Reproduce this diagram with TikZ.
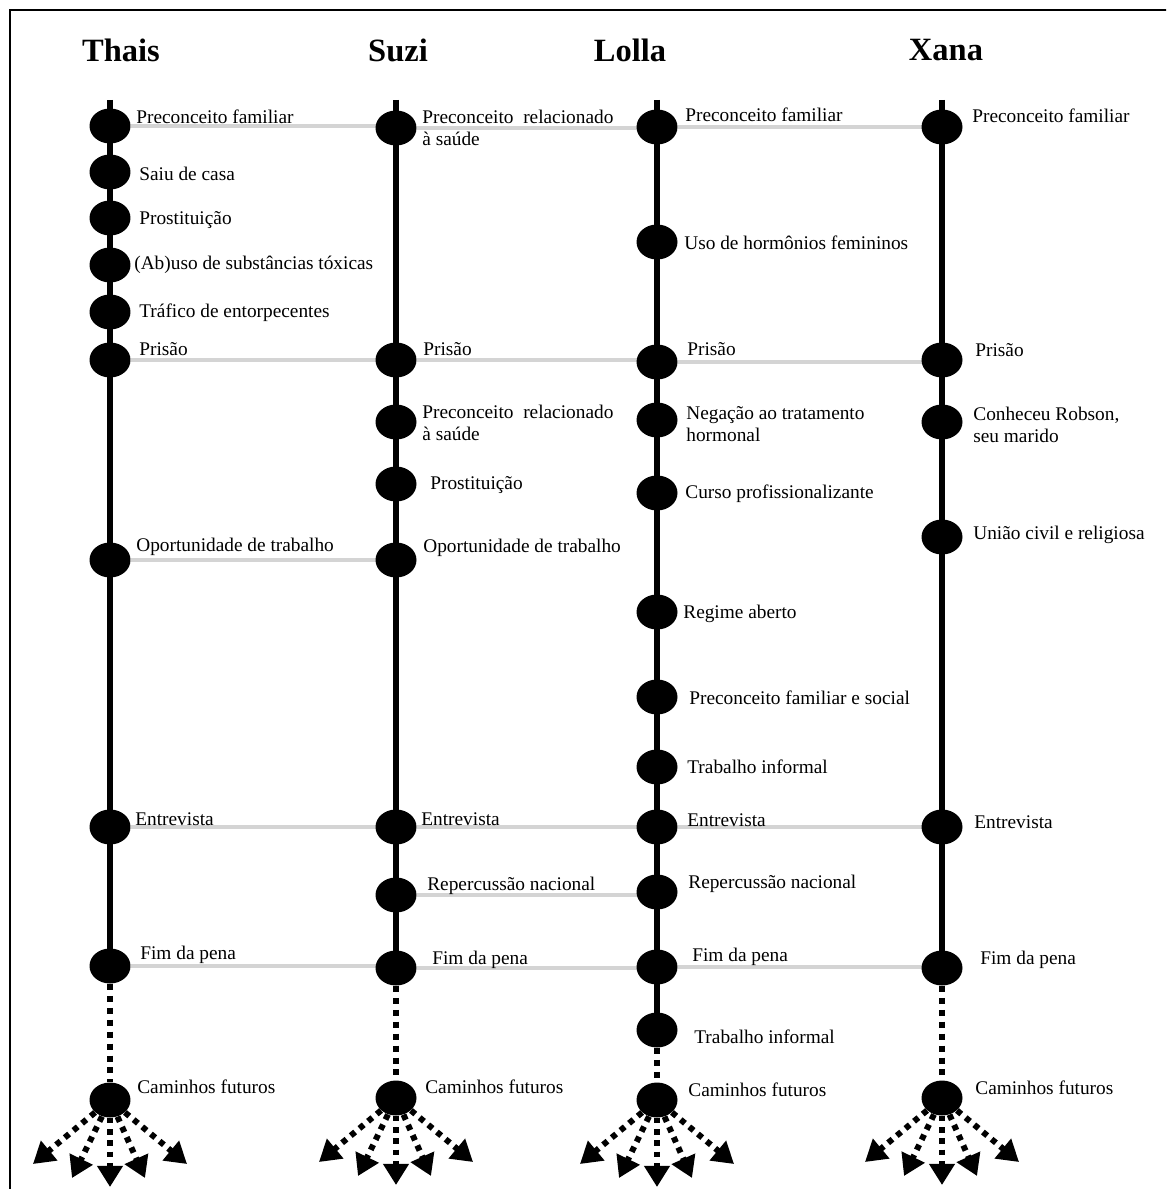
\documentclass[tikz,border=0pt]{standalone}
\usepackage{fontspec}
\setmainfont{Liberation Serif}
\usetikzlibrary{arrows.meta,backgrounds,shapes.geometric}

\tikzset{
  evento/.style={ellipse,fill=black,minimum width=0.82cm,minimum height=0.7cm,inner sep=0pt},
  rotulo/.style={anchor=west,inner sep=0pt,align=left,font=\fontsize{11}{12.2}\selectfont},
  nome/.style={font=\fontsize{18.5}{20}\selectfont\bfseries},
  linha/.style={line width=3.4pt},
  ligacao/.style={line width=2.2pt,color=black!17},
  tracejado/.style={line width=3.4pt,dash pattern=on 3.4pt off 3.4pt},
  futuro/.style={line width=3.4pt,dash pattern=on 3.2pt off 3.2pt,
    -{Triangle[length=12pt,width=14pt]}}
}

\begin{document}
\begin{tikzpicture}[x=0.02cm,y=-0.02cm]
  \useasboundingbox (0,0) rectangle (1166,1189);
  \clip (0,0) rectangle (1166,1189);

  %frame
  \draw[line width=1.7pt,line join=miter] (10,1200) -- (10,10) -- (1200,10);

  %names
  \node[nome] (thais) at (121,50) {Thais};
  \node[nome] (suzi) at (398,50) {Suzi};
  \node[nome] (lolla) at (630,50) {Lolla};
  \node[nome] (xana) at (946,50) {Xana};

  %Thais
  \coordinate (ttop) at (110,100);
  \foreach \n/\y/\lx/\ly/\txt in {
      1/126/136/117/{Preconceito familiar},
      2/172/139/174/{Saiu de casa},
      3/218/139/220/{Prostituição},
      4/265/134/265/{(Ab)uso de substâncias tóxicas},
      5/312/139/313/{Tráfico de entorpecentes},
      6/360/139/349/{Prisão},
      7/560/136/547/{Oportunidade de trabalho},
      8/827/135/819/{Entrevista},
      9/966/140/955/{Fim da pena},
      c/1100/137/1087/{Caminhos futuros}}
  {
    \node[evento] (t\n) at (110,\y) {};
    \node[rotulo] (t\n r) at (\lx,\ly) {\txt};
  }

  %Suzi
  \coordinate (stop) at (396,100);
  \foreach \n/\y/\lx/\ly/\txt in {
      1/128/422/128/{Preconceito\ \ relacionado\\à saúde},
      2/360/423/349/{Prisão},
      3/422/422/423/{Preconceito\ \ relacionado\\à saúde},
      4/484/430/485/{Prostituição},
      5/560/423/548/{Oportunidade de trabalho},
      6/827/421/819/{Entrevista},
      7/895/427/886/{Repercussão nacional},
      8/968/432/960/{Fim da pena},
      c/1098/425/1087/{Caminhos futuros}}
  {
    \node[evento] (s\n) at (396,\y) {};
    \node[rotulo] (s\n r) at (\lx,\ly) {\txt};
  }

  %Lolla
  \coordinate (ltop) at (657,100);
  \foreach \n/\y/\lx/\ly/\txt in {
      1/127/685/115/{Preconceito familiar},
      2/242/684/243/{Uso de hormônios femininos},
      3/362/687/349/{Prisão},
      4/420/686/424/{Negação ao tratamento\\hormonal},
      5/493/685/494/{Curso profissionalizante},
      6/612/683/614/{Regime aberto},
      7/697/689/698/{Preconceito familiar e social},
      8/767/687/767/{Trabalho informal},
      9/827/687/820/{Entrevista},
      10/892/688/884/{Repercussão nacional},
      11/967/692/957/{Fim da pena},
      12/1030/694/1037/{Trabalho informal},
      c/1100/688/1090/{Caminhos futuros}}
  {
    \node[evento] (l\n) at (657,\y) {};
    \node[rotulo] (l\n r) at (\lx,\ly) {\txt};
  }

  %Xana
  \coordinate (xtop) at (942,100);
  \foreach \n/\y/\lx/\ly/\txt in {
      1/127/972/116/{Preconceito familiar},
      2/360/975/350/{Prisão},
      3/422/973/425/{Conheceu Robson,\\seu marido},
      4/537/973/535/{União civil e religiosa},
      5/827/974/822/{Entrevista},
      6/968/980/960/{Fim da pena},
      c/1098/975/1088/{Caminhos futuros}}
  {
    \node[evento] (x\n) at (942,\y) {};
    \node[rotulo] (x\n r) at (\lx,\ly) {\txt};
  }

  \begin{scope}[on background layer]
    %shared events
    \foreach \a/\b in {t1/s1,s1/l1,l1/x1,t6/s2,s2/l3,l3/x2,t7/s5,
                       t8/s6,s6/l9,l9/x5,s7/l10,t9/s8,s8/l11,l11/x6}
      \draw[ligacao] (\a) -- (\a -| \b);
    %timelines
    \draw[linha] (ttop) -- (t9.center);
    \draw[linha] (stop) -- (s8.center);
    \draw[linha] (ltop) -- (l12.center);
    \draw[linha] (xtop) -- (x6.center);
  \end{scope}

  %towards the future
  \draw[tracejado] (t9) -- (tc);
  \draw[tracejado] (s8) -- (sc);
  \draw[tracejado] (l12) -- (lc);
  \draw[tracejado] (x6) -- (xc);
  \foreach \c in {tc,sc,lc,xc}
    \foreach \dx/\dy in {-77/64,-38/78,0/87,35/78,77/64}
      \draw[futuro] (\c) -- ++(\dx,\dy);
\end{tikzpicture}
\end{document}
